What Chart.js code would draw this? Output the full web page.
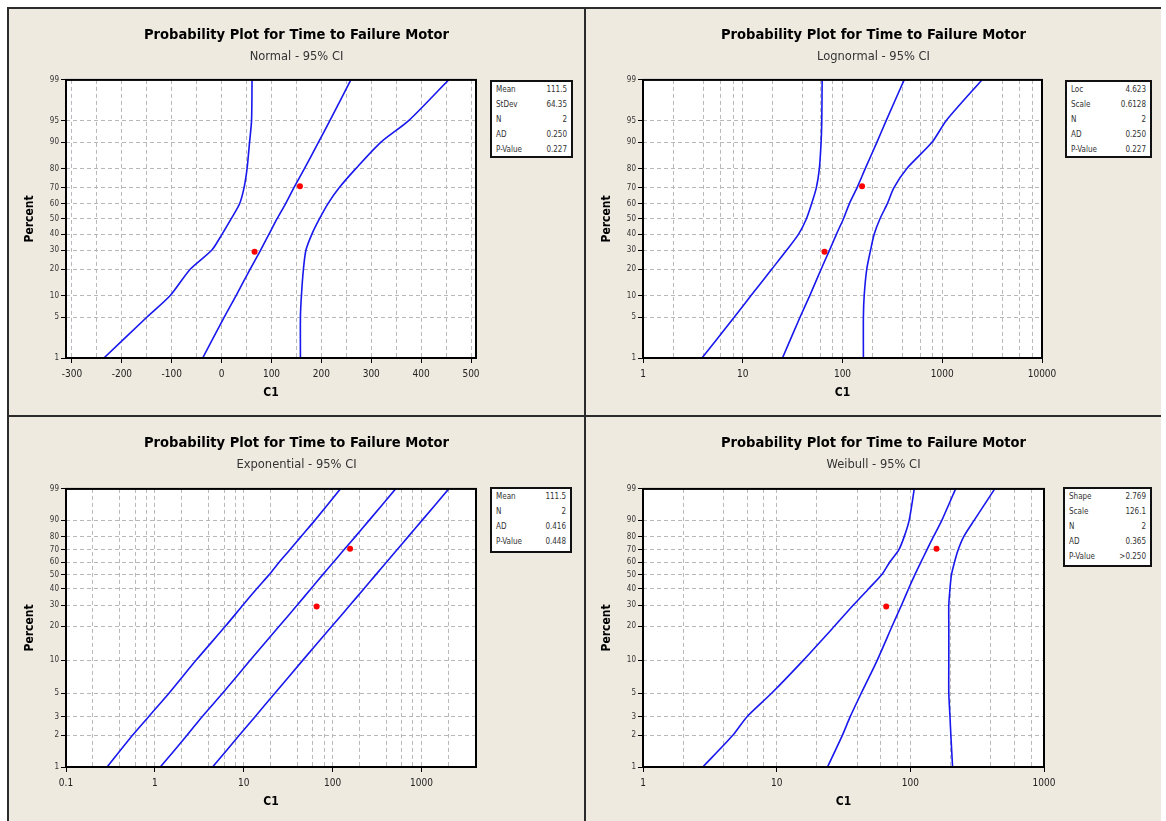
<!DOCTYPE html>
<html>
<head>
<meta charset="utf-8">
<title>Probability Plot for Time to Failure Motor</title>
<script src="https://cdn.jsdelivr.net/npm/chart.js@4.4.1/dist/chart.umd.min.js"></script>
<style>
html, body { margin: 0; background: #fff; }
#sheet { position: relative; width: 1166px; height: 821px; overflow: hidden; }
.bg { position: absolute; left: 7px; top: 7px; width: 1154px; height: 814px; background: #eeeae0; }
.rule { position: absolute; background: #2b2b2b; }
canvas { position: absolute; }
.stats {
    position: absolute; box-sizing: border-box; background: #fff; border: 2px solid #111;
    padding: 0 4px; font: 8px 'DejaVu Sans Condensed', 'DejaVu Sans', sans-serif; color: #333; line-height: 15px;
}
.stats div { display: flex; justify-content: space-between; }
</style>
</head>
<body>
<div id="sheet">
    <div class="bg"></div>
    <div class="rule" style="left:7px;top:7px;width:1154px;height:2px"></div>
    <div class="rule" style="left:7px;top:7px;width:2px;height:814px"></div>
    <div class="rule" style="left:584px;top:7px;width:2px;height:814px"></div>
    <div class="rule" style="left:7px;top:415px;width:1154px;height:2px"></div>

    <canvas id="plotNormal" width="575" height="406" style="left:9px;top:9px"></canvas>
    <canvas id="plotLognormal" width="575" height="406" style="left:586px;top:9px"></canvas>
    <canvas id="plotExponential" width="575" height="404" style="left:9px;top:417px"></canvas>
    <canvas id="plotWeibull" width="575" height="404" style="left:586px;top:417px"></canvas>

    <div class="stats" id="statsNormal" style="left:490px;top:80px;width:83px;height:78px"></div>
    <div class="stats" id="statsLognormal" style="left:1065px;top:80px;width:87px;height:78px"></div>
    <div class="stats" id="statsExponential" style="left:490px;top:487px;width:82px;height:66px"></div>
    <div class="stats" id="statsWeibull" style="left:1063px;top:487px;width:89px;height:80px"></div>
</div>

<script>
// data points (failure times) and their median-rank percents
const failTimes = [66, 157];
const failPct = [29.2, 70.8];

// percent levels the fitted lines and CI bands were read at
const pctNormalLevels = [1, 5, 10, 20, 30, 40, 50, 60, 70, 80, 90, 95, 99];
const pctWeibullLevels = [1, 2, 3, 5, 10, 20, 30, 40, 50, 60, 70, 80, 90, 99];

// Normal - 95% CI
const normalLower = [-236, -150, -103, -63, -20, 1, 19, 36, 45, 51, 56, 60, 61];
const normalFit = [-38, 5, 29, 57, 78, 95, 111, 128, 145, 166, 194, 217, 259];
const normalUpper = [158, 158, 160, 164, 169, 181, 196, 213, 236, 269, 319, 375, 455];

// Lognormal - 95% CI
const lognormalLower = [3.9, 8.2, 12.1, 19.5, 27.5, 36.3, 43.4, 49, 54.7, 58.6, 61, 62, 62.5];
const lognormalFit = [25, 37.5, 47, 61, 74, 87, 102, 117, 140, 169, 221, 274, 415];
const lognormalUpper = [162, 162, 165, 175, 191, 208, 237, 281, 328, 440, 789, 1095, 2500];

// Exponential - 95% CI
const exponentialLower = [0.29, 0.56, 0.85, 1.45, 2.9, 6.2, 9.8, 14, 19.2, 25, 33, 44, 63, 122];
const exponentialFit = [1.15, 2.3, 3.4, 5.8, 11.8, 25, 40, 57, 77, 102, 134, 180, 257, 510];
const exponentialUpper = [4.45, 8.9, 13.4, 22.5, 46, 98, 157, 225, 305, 403, 530, 708, 1013, 2020];

// Weibull - 95% CI
const weibullLower = [2.8, 4.7, 6.0, 9.2, 15.8, 27, 37.5, 48.8, 61, 70, 82, 90, 98, 107];
const weibullFit = [24, 31, 35.5, 43, 56.5, 73, 86, 97, 108, 120, 133, 149, 172, 218];
const weibullUpper = [207, 201, 198, 194, 194, 194, 194, 198, 203, 214, 228, 251, 300, 428];

// axis ticks
const yTicksNormal = [1, 5, 10, 20, 30, 40, 50, 60, 70, 80, 90, 95, 99];
const yTicksWeibull = [1, 2, 3, 5, 10, 20, 30, 40, 50, 60, 70, 80, 90, 99];
const xGridNormal = [-300, -250, -200, -150, -100, -50, 0, 50, 100, 150, 200, 250, 300, 350, 400, 450, 500];
const xLabelsNormal = [-300, -200, -100, 0, 100, 200, 300, 400, 500];
const xGridLognormal = [1, 2, 4, 6, 8, 10, 20, 40, 60, 80, 100, 200, 400, 600, 800, 1000, 2000, 4000, 6000, 8000, 10000];
const xLabelsLognormal = [1, 10, 100, 1000, 10000];
const xGridExponential = [0.1, 0.2, 0.4, 0.6, 0.8, 1, 2, 4, 6, 8, 10, 20, 40, 60, 80, 100, 200, 400, 600, 800, 1000, 2000];
const xLabelsExponential = [0.1, 1, 10, 100, 1000];
const xGridWeibull = [1, 2, 4, 6, 8, 10, 20, 40, 60, 80, 100, 200, 400, 600, 800, 1000];
const xLabelsWeibull = [1, 10, 100, 1000];

// fit summaries
const statsNormal = [['Mean', '111.5'], ['StDev', '64.35'], ['N', '2'], ['AD', '0.250'], ['P-Value', '0.227']];
const statsLognormal = [['Loc', '4.623'], ['Scale', '0.6128'], ['N', '2'], ['AD', '0.250'], ['P-Value', '0.227']];
const statsExponential = [['Mean', '111.5'], ['N', '2'], ['AD', '0.416'], ['P-Value', '0.448']];
const statsWeibull = [['Shape', '2.769'], ['Scale', '126.1'], ['N', '2'], ['AD', '0.365'], ['P-Value', '>0.250']];

const FONT = "'DejaVu Sans Condensed', 'DejaVu Sans', sans-serif";
Chart.defaults.font.family = FONT;

// inverse standard normal cdf (Acklam)
function normInv(p) {
    const a = [-39.69683028665376, 220.9460984245205, -275.9285104469687, 138.3577518672690, -30.66479806614716, 2.506628277459239];
    const b = [-54.47609879822406, 161.5858368580409, -155.6989798598866, 66.80131188771972, -13.28068155288572];
    const c = [-0.007784894002430293, -0.3223964580411365, -2.400758277161838, -2.549732539343734, 4.374664141464968, 2.938163982698783];
    const d = [0.007784695709041462, 0.3224671290700398, 2.445134137142996, 3.754408661907416];
    const pl = 0.02425;
    let q, r;
    if (p < pl) {
        q = Math.sqrt(-2 * Math.log(p));
        return (((((c[0] * q + c[1]) * q + c[2]) * q + c[3]) * q + c[4]) * q + c[5]) / ((((d[0] * q + d[1]) * q + d[2]) * q + d[3]) * q + 1);
    }
    if (p > 1 - pl) {
        q = Math.sqrt(-2 * Math.log(1 - p));
        return -(((((c[0] * q + c[1]) * q + c[2]) * q + c[3]) * q + c[4]) * q + c[5]) / ((((d[0] * q + d[1]) * q + d[2]) * q + d[3]) * q + 1);
    }
    q = p - 0.5;
    r = q * q;
    return (((((a[0] * r + a[1]) * r + a[2]) * r + a[3]) * r + a[4]) * r + a[5]) * q / (((((b[0] * r + b[1]) * r + b[2]) * r + b[3]) * r + b[4]) * r + 1);
}

const probTransforms = {
    normal: (pct) => normInv(pct / 100),
    weibull: (pct) => Math.log(-Math.log(1 - pct / 100))
};

// percent axis: normal or smallest-extreme-value probability paper
class ProbabilityScale extends Chart.Scale {
    determineDataLimits() {
        this.min = this.options.min;
        this.max = this.options.max;
    }
    buildTicks() {
        return [];
    }
    configure() {
        super.configure();
        const f = probTransforms[this.options.kind];
        this._tMin = f(this.min);
        this._tMax = f(this.max);
    }
    getPixelForValue(value) {
        const f = probTransforms[this.options.kind];
        return this.getPixelForDecimal((f(value) - this._tMin) / (this._tMax - this._tMin));
    }
    getPixelForTick(index) {
        return this.getPixelForValue(this.ticks[index].value);
    }
    getValueForPixel() {
        return null;
    }
    getLabelForValue(value) {
        return String(value);
    }
}
ProbabilityScale.id = 'probability';
ProbabilityScale.defaults = {};
Chart.register(ProbabilityScale);

const plotFrame = {
    id: 'plotFrame',
    beforeDraw(chart) {
        const a = chart.chartArea;
        chart.ctx.save();
        chart.ctx.fillStyle = '#fff';
        chart.ctx.fillRect(a.left, a.top, a.right - a.left, a.bottom - a.top);
        chart.ctx.restore();
    },
    afterDatasetsDraw(chart) {
        const a = chart.chartArea;
        const ctx = chart.ctx;
        ctx.save();
        ctx.strokeStyle = '#000';
        ctx.lineWidth = 2;
        ctx.strokeRect(a.left, a.top, a.right - a.left, a.bottom - a.top);
        ctx.restore();
    }
};

function curve(xs, pcts) {
    return {
        data: xs.map((x, i) => ({ x: x, y: pcts[i] })),
        showLine: true,
        borderColor: '#1818ee',
        borderWidth: 1.6,
        pointRadius: 0,
        tension: 0.25,
        fill: false
    };
}

function LoadProbabilityPlot(canvasId, cfg) {
    const labelled = (v) => cfg.xLabels.indexOf(v) !== -1;
    const gridColor = '#b8b8b8';
    new Chart(document.getElementById(canvasId), {
        type: 'scatter',
        data: {
            datasets: [
                curve(cfg.lower, cfg.pct),
                curve(cfg.fit, cfg.pct),
                curve(cfg.upper, cfg.pct),
                {
                    data: failTimes.map((x, i) => ({ x: x, y: failPct[i] })),
                    showLine: false,
                    pointRadius: 3,
                    pointBackgroundColor: '#ff0000',
                    pointBorderWidth: 0
                }
            ]
        },
        options: {
            responsive: false,
            animation: false,
            events: [],
            layout: { padding: 0 },
            plugins: {
                legend: { display: false },
                tooltip: { enabled: false },
                title: {
                    display: true,
                    text: 'Probability Plot for Time to Failure Motor',
                    color: '#000',
                    font: { size: 14.6, weight: 'bold' },
                    padding: { top: 17.2, bottom: 3 }
                },
                subtitle: {
                    display: true,
                    text: cfg.subtitle,
                    color: '#333',
                    font: { size: 11.5, family: "'DejaVu Sans', sans-serif" },
                    padding: { top: 3, bottom: cfg.subPad }
                }
            },
            scales: {
                x: {
                    type: cfg.xType,
                    position: 'bottom',
                    min: cfg.xMin,
                    max: cfg.xMax,
                    afterBuildTicks: (s) => { s.ticks = cfg.xGrid.map((v) => ({ value: v })); },
                    afterFit: (s) => { s.height = cfg.bottom; },
                    ticks: {
                        autoSkip: false, maxRotation: 0, minRotation: 0, padding: 5,
                        color: '#222', font: { size: 10 },
                        callback: (v) => labelled(v) ? String(v) : ''
                    },
                    grid: {
                        color: gridColor, lineWidth: 1, tickLength: 5, tickWidth: 1,
                        tickColor: (c) => (c.tick && labelled(c.tick.value)) ? '#000' : 'rgba(0,0,0,0)'
                    },
                    border: { display: false, dash: [4, 3] },
                    title: {
                        display: true, text: 'C1', color: '#000',
                        font: { size: 12, weight: 'bold' },
                        padding: { top: 0, bottom: cfg.xTitlePad }
                    }
                },
                y: {
                    type: 'probability',
                    kind: cfg.yKind,
                    position: 'left',
                    min: 1,
                    max: 99,
                    afterBuildTicks: (s) => { s.ticks = cfg.yTicks.map((v) => ({ value: v })); },
                    afterFit: (s) => { s.width = 57; },
                    ticks: { autoSkip: false, padding: 2, color: '#333', font: { size: 8 }, callback: (v) => String(v) },
                    grid: { color: gridColor, lineWidth: 1, tickLength: 5, tickWidth: 1, tickColor: '#000' },
                    border: { display: false, dash: [4, 3] },
                    title: {
                        display: true, text: 'Percent', color: '#000',
                        font: { size: 12, weight: 'bold' },
                        padding: { top: cfg.yTitlePad, bottom: 0 }
                    }
                },
                pad: {
                    type: 'linear',
                    position: 'right',
                    afterFit: (s) => { s.width = cfg.right; },
                    ticks: { display: false },
                    grid: { display: false, drawTicks: false },
                    border: { display: false }
                }
            }
        },
        plugins: [plotFrame]
    });
}

function FillStats(id, rows) {
    const box = document.getElementById(id);
    rows.forEach((r) => {
        const row = document.createElement('div');
        const k = document.createElement('span');
        const v = document.createElement('span');
        k.textContent = r[0];
        v.textContent = r[1];
        row.appendChild(k);
        row.appendChild(v);
        box.appendChild(row);
    });
}

LoadProbabilityPlot('plotNormal', {
    subtitle: 'Normal - 95% CI', xType: 'linear', xMin: -312, xMax: 510,
    xGrid: xGridNormal, xLabels: xLabelsNormal, yKind: 'normal', yTicks: yTicksNormal,
    pct: pctNormalLevels, lower: normalLower, fit: normalFit, upper: normalUpper,
    right: 108, bottom: 57, subPad: 16.4, xTitlePad: 14.8, yTitlePad: 14
});
LoadProbabilityPlot('plotLognormal', {
    subtitle: 'Lognormal - 95% CI', xType: 'logarithmic', xMin: 1, xMax: 10000,
    xGrid: xGridLognormal, xLabels: xLabelsLognormal, yKind: 'normal', yTicks: yTicksNormal,
    pct: pctNormalLevels, lower: lognormalLower, fit: lognormalFit, upper: lognormalUpper,
    right: 119, bottom: 57, subPad: 16.4, xTitlePad: 14.8, yTitlePad: 13.5
});
LoadProbabilityPlot('plotExponential', {
    subtitle: 'Exponential - 95% CI', xType: 'logarithmic', xMin: 0.1, xMax: 4100,
    xGrid: xGridExponential, xLabels: xLabelsExponential, yKind: 'weibull', yTicks: yTicksWeibull,
    pct: pctWeibullLevels, lower: exponentialLower, fit: exponentialFit, upper: exponentialUpper,
    right: 108, bottom: 54, subPad: 17.4, xTitlePad: 12.1, yTitlePad: 14
});
LoadProbabilityPlot('plotWeibull', {
    subtitle: 'Weibull - 95% CI', xType: 'logarithmic', xMin: 1, xMax: 1000,
    xGrid: xGridWeibull, xLabels: xLabelsWeibull, yKind: 'weibull', yTicks: yTicksWeibull,
    pct: pctWeibullLevels, lower: weibullLower, fit: weibullFit, upper: weibullUpper,
    right: 117, bottom: 54, subPad: 17.4, xTitlePad: 12.1, yTitlePad: 13.5
});

FillStats('statsNormal', statsNormal);
FillStats('statsLognormal', statsLognormal);
FillStats('statsExponential', statsExponential);
FillStats('statsWeibull', statsWeibull);
</script>
</body>
</html>
